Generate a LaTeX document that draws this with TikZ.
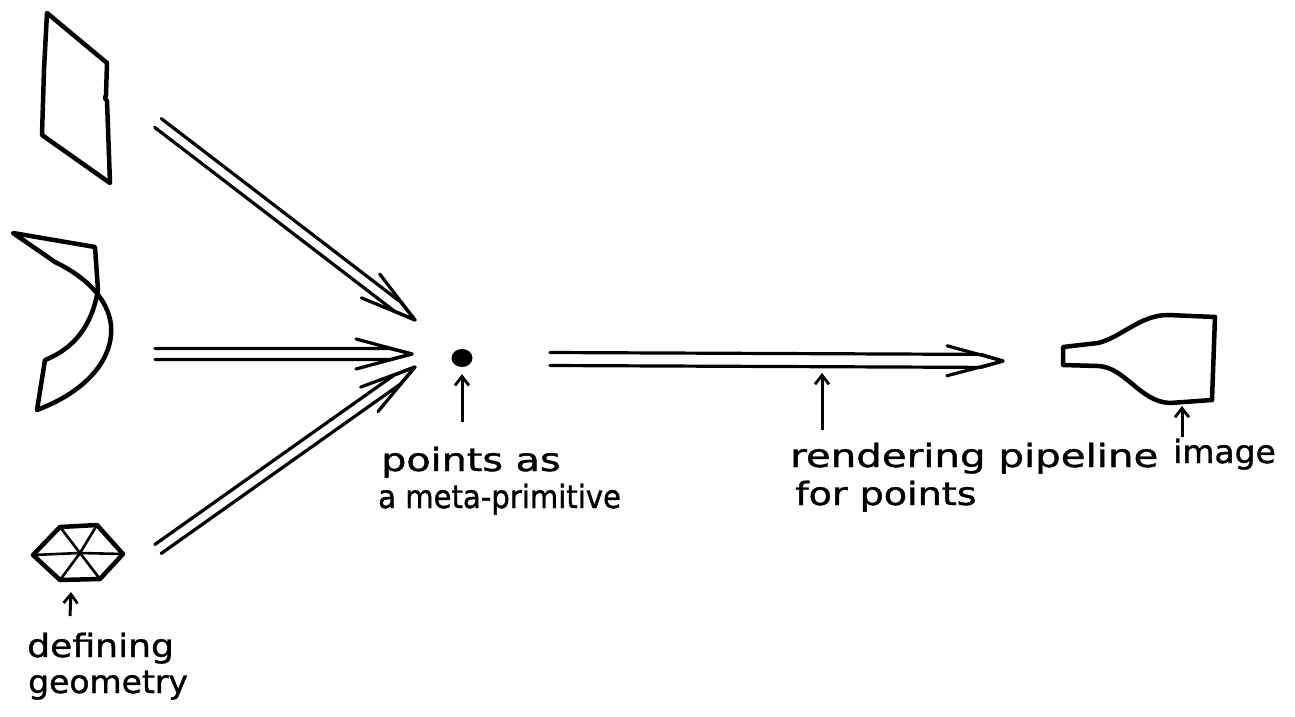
\documentclass[tikz,border=0pt]{standalone}
\usepackage{fontspec}
\setmainfont[FakeBold=1.2]{DejaVu Sans}
\usetikzlibrary{calc,shapes.geometric,arrows.meta}
\newcommand\myDblArrow[3]{% #1 start, #2 tip, #3 half gap
  \coordinate (Qa) at ($(#2)!22pt!(#1)$);
  \draw[dblline] ($(#1)!#3!90:(#2)$) -- ($(Qa)!#3!-90:(#1)$) -- (#2)
                 -- ($(Qa)!#3!90:(#1)$) -- ($(#1)!#3!-90:(#2)$);
  \draw[dblline] ($(#2)!58pt!15:(#1)$) -- (#2) -- ($(#2)!58pt!-15:(#1)$);
}
\begin{document}
\begin{tikzpicture}[x=1pt,y=-1pt,
  shapeline/.style={line width=4.5pt, line join=round, line cap=round},
  dblline/.style={line width=3.2pt, line join=round, line cap=round},
  thinline/.style={line width=2.6pt, line join=round, line cap=round},
  ptr/.style={line width=3pt, -{Straight Barb[length=9pt,width=14pt,line width=2.8pt]}},
  lbl/.style={anchor=base west, inner sep=0pt, font=\fontsize{32}{34}\selectfont}]
\useasboundingbox (0,0) rectangle (1295,717);

% parallelogram
\draw[shapeline] (47,13) -- (107,63) -- (106,95) -- (105,98) -- (107,101) -- (110,183) -- (42,135) -- (44,70) -- cycle;

% curved piece
\draw[shapeline] (13,233) -- (95,247) -- (98,290)
  .. controls (92,325) and (75,348) .. (45,360) -- (37,410)
  .. controls (85,392) and (114,360) .. (111,325)
  .. controls (108,300) and (88,278) .. (55,262) -- cycle;

% hexagon (defining geometry)
\coordinate (hc) at (80,553);
\coordinate (h1) at (33,555);
\coordinate (h2) at (60,527);
\coordinate (h3) at (97,525);
\coordinate (h4) at (123,554);
\coordinate (h5) at (100,579);
\coordinate (h6) at (60,580);
\draw[shapeline] (h1) -- (h2) -- (h3) -- (h4) -- (h5) -- (h6) -- cycle;
\foreach \v in {h1,h2,h3,h4,h5,h6} \draw[thinline] (hc) -- (\v);

% converging double arrows
\coordinate (s1) at (158,123);
\coordinate (t1) at (415,320);
\coordinate (s2) at (155,354);
\coordinate (t2) at (412,354);
\coordinate (s3) at (158,549);
\coordinate (t3) at (415,367);
\myDblArrow{s1}{t1}{5.5pt}
\myDblArrow{s2}{t2}{5.5pt}
\myDblArrow{s3}{t3}{5.5pt}

% point
\node[ellipse, fill=black, minimum width=21pt, minimum height=18pt, inner sep=0pt] (dot) at (462,358) {};
\coordinate (dotp) at (462,422);
\draw[ptr] (dotp) -- ($(dot.south)+(0,7)$);

% pipeline arrow
\coordinate (s4) at (550,359);
\coordinate (t4) at (1003,361);
\myDblArrow{s4}{t4}{6.5pt}
\coordinate (pipeA) at (822,430);
\coordinate (pipeB) at (822,373);
\draw[ptr] (pipeA) -- (pipeB);

% image shape
\draw[shapeline] (1063,347) -- (1098,343)
  .. controls (1122,337) and (1140,315) .. (1168,315) -- (1215,317)
  -- (1212,400) -- (1170,403)
  .. controls (1140,402) and (1125,367) .. (1098,366) -- (1063,365) -- cycle;
\coordinate (imgA) at (1182,437);
\coordinate (imgB) at (1182,406);
\draw[ptr] (imgA) -- (imgB);

% hexagon pointer
\coordinate (hexA) at (70,616);
\coordinate (hexB) at (71,592);
\draw[ptr] (hexA) -- (hexB);

% labels
\node[lbl] (l1) at (381,471) {\scalebox{1.24}[1]{points as}};
\node[lbl] (l2) at (378,508) {\scalebox{0.91}[1]{a meta-primitive}};
\node[lbl] (l3) at (790,467) {\scalebox{1.26}[1]{rendering pipeline}};
\node[lbl] (l4) at (795,505) {\scalebox{1.19}[1]{for points}};
\node[lbl] (l5) at (1173,463) {\scalebox{1.03}[1]{image}};
\node[lbl] (l6) at (27,657) {\scalebox{1.13}[1]{defining}};
\node[lbl] (l7) at (28,693) {\scalebox{1.03}[1]{geometry}};
\end{tikzpicture}
\end{document}
